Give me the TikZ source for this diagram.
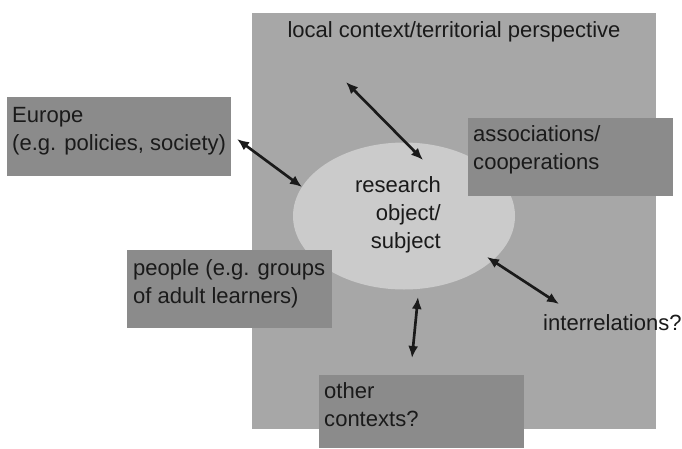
\documentclass[tikz,border=0pt]{standalone}
\usepackage{fontspec}
\setmainfont{Liberation Sans}
\usetikzlibrary{arrows.meta}
\definecolor{ctxgray}{HTML}{A7A7A7}
\definecolor{boxgray}{HTML}{8B8B8B}
\definecolor{objgray}{HTML}{CBCBCB}
\definecolor{inkgray}{HTML}{1A1A1A}
\tikzset{
  lbl/.style={anchor=north west, align=left, inner sep=0pt, text=inkgray,
    font=\fontsize{18.8}{23.9}\selectfont},
  dblarrow/.style={line width=0.8mm, draw=inkgray,
    arrows={Latex[length=3.6mm,width=3mm]-Latex[length=3.6mm,width=3mm]}}
}

\begin{document}
\begin{tikzpicture}[x=0.03cm, y=-0.03cm]
        \useasboundingbox (0,0) rectangle (682,448);
        % Draw the local context and the research object
        \fill[ctxgray] (252,13) rectangle (656,429);
        \fill[objgray] (404,216) ellipse [x radius=111, y radius=73.5];
        \node[lbl, anchor=base, align=center] (local) at (454,37) {local context/territorial perspective};
        \node[lbl, anchor=north east, align=right] (object) at (441,176) {research\\object/\\subject};
        % Boxes of the surrounding contexts
        \fill[boxgray] (7,97) rectangle (231,176);
        \node[lbl] (europe) at (12,107) {Europe\\(e.g. policies, society)};
        \fill[boxgray] (468,118) rectangle (673,196);
        \node[lbl] (assoc) at (473,125) {associations/\\cooperations};
        \fill[boxgray] (127,250) rectangle (332,328);
        \node[lbl] (people) at (133,259) {people (e.g. groups\\of adult learners)};
        \fill[boxgray] (319,375) rectangle (524,448);
        \node[lbl] (other) at (324,382) {other\\contexts?};
        \node[lbl, anchor=base west] (inter) at (543,330) {interrelations?};
        % Arrow end points (use arrows command to insert arrow of choice)
        \coordinate (euA) at (237,139);
        \coordinate (euB) at (302,187);
        \coordinate (topA) at (346,82);
        \coordinate (topB) at (423,160);
        \coordinate (botA) at (418,297);
        \coordinate (botB) at (412,358);
        \coordinate (intA) at (487,257);
        \coordinate (intB) at (559,304);
        \draw[dblarrow] (euA) -- (euB);
        \draw[dblarrow] (topA) -- (topB);
        \draw[dblarrow] (botA) -- (botB);
        \draw[dblarrow] (intA) -- (intB);
      \end{tikzpicture}
\end{document}
